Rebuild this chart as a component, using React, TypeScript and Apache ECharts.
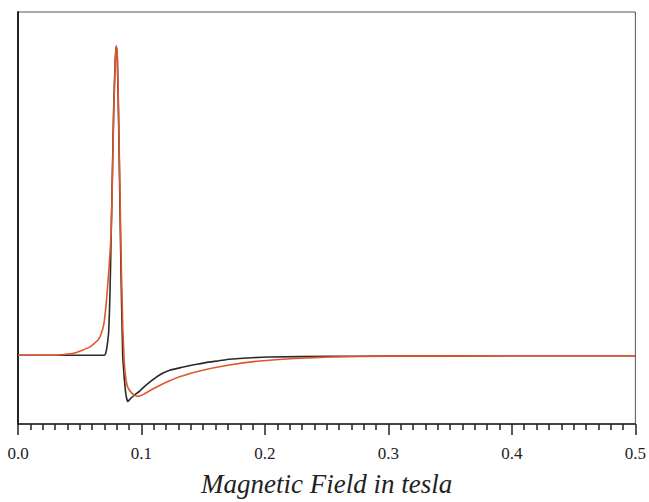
import React, { useEffect, useRef } from "react";
import * as echarts from "echarts";

// Field (tesla) and normalized signal
const blackX = [0, 0.07, 0.071, 0.0722, 0.0735, 0.0745, 0.0755, 0.0765, 0.0775, 0.0787, 0.0796, 0.0805, 0.0815, 0.0825, 0.0835, 0.0848, 0.0862, 0.0875, 0.0889, 0.0905, 0.0935, 0.0985, 0.1025, 0.1066, 0.1147, 0.1228, 0.132, 0.1414, 0.152, 0.163, 0.171, 0.204, 0.252, 0.3, 0.4, 0.5];
const blackY = [0, 0, 0.006, 0.03, 0.08, 0.2, 0.4, 0.6, 0.8, 0.95, 1.0, 0.95, 0.75, 0.5, 0.25, 0.0, -0.08, -0.13, -0.15, -0.143, -0.132, -0.116, -0.101, -0.087, -0.064, -0.049, -0.04, -0.032, -0.024, -0.018, -0.013, -0.006, -0.004, -0.003, -0.002, -0.002];

const redX = [0, 0.03, 0.045, 0.058, 0.065, 0.067, 0.0695, 0.0715, 0.0735, 0.0755, 0.0765, 0.0775, 0.0787, 0.0796, 0.0805, 0.0815, 0.0825, 0.0835, 0.0848, 0.086, 0.0875, 0.089, 0.092, 0.0945, 0.097, 0.0985, 0.102, 0.1066, 0.1147, 0.1228, 0.1309, 0.147, 0.1712, 0.1955, 0.2278, 0.252, 0.3, 0.4, 0.5];
const redY = [0, 0, 0.006, 0.026, 0.05, 0.065, 0.1, 0.17, 0.27, 0.4, 0.58, 0.78, 0.94, 1.0, 0.96, 0.78, 0.55, 0.32, 0.1, -0.02, -0.08, -0.105, -0.122, -0.13, -0.133, -0.132, -0.126, -0.115, -0.098, -0.083, -0.07, -0.051, -0.032, -0.019, -0.01, -0.006, -0.003, -0.002, -0.002];

const xTicks = [0, 0.1, 0.2, 0.3, 0.4, 0.5];
const axisTitle = "Magnetic Field in tesla";

const zip = (xs: number[], ys: number[]) => xs.map((x, i) => [x, ys[i]]);

export default function App() {
  const ref = useRef<HTMLDivElement>(null);
  useEffect(() => {
    const chart = echarts.init(ref.current!, undefined, { renderer: "svg" });
    chart.setOption({
      animation: false,
      backgroundColor: "#fff",
      grid: {
        left: 18,
        right: 12,
        top: 12,
        bottom: 63,
        show: true,
        borderColor: "#555",
        borderWidth: 1,
      },
      xAxis: {
        type: "value",
        min: xTicks[0],
        max: xTicks[xTicks.length - 1],
        interval: 0.1,
        name: axisTitle,
        nameLocation: "middle",
        nameGap: 46,
        nameTextStyle: {
          fontFamily: "Liberation Serif",
          fontStyle: "italic",
          fontSize: 27,
          color: "#222",
        },
        axisLine: { show: true, onZero: false, lineStyle: { color: "#222", width: 1.5 } },
        axisTick: { show: true, inside: false, length: 11, lineStyle: { color: "#222", width: 1.5 } },
        minorTick: { show: true, splitNumber: 10, length: 6, lineStyle: { color: "#222", width: 1.5 } },
        axisLabel: {
          margin: 21,
          fontFamily: "Liberation Serif",
          fontSize: 17,
          color: "#222",
          formatter: (v: number) => v.toFixed(1),
        },
        splitLine: { show: false },
      },
      yAxis: {
        type: "value",
        min: -0.2226,
        max: 1.11,
        axisLine: { show: true, lineStyle: { color: "#222", width: 2 } },
        axisTick: { show: false },
        axisLabel: { show: false },
        splitLine: { show: false },
      },
      series: [
        {
          type: "line",
          data: zip(blackX, blackY),
          showSymbol: false,
          smooth: 0.15,
          lineStyle: { color: "#2a2a2a", width: 1.6 },
          z: 2,
        },
        {
          type: "line",
          data: zip(redX, redY),
          showSymbol: false,
          smooth: 0.15,
          lineStyle: { color: "#e2552c", width: 1.6 },
          z: 3,
        },
      ],
    });
    return () => chart.dispose();
  }, []);
  return <div ref={ref} style={{ width: 649, height: 502, position: "absolute", left: 0, top: 0 }} />;
}
